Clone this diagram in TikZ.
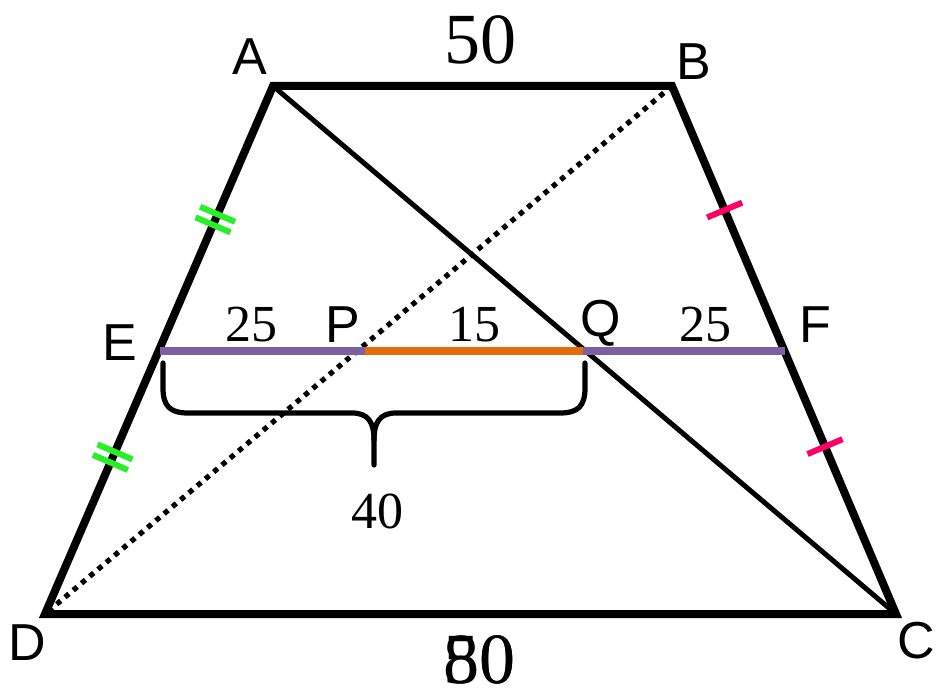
\documentclass[tikz,border=0pt]{standalone}
\usepackage{fontspec}
\newfontfamily\lsans{Liberation Sans}
\newfontfamily\lserif{Liberation Serif}
\usetikzlibrary{calc}
\definecolor{frpurple}{RGB}{124,96,162}
\definecolor{frorange}{RGB}{228,108,10}
\definecolor{frgreen}{RGB}{40,240,40}
\definecolor{frpink}{RGB}{255,0,102}
\tikzset{
  frame/.style={line width=4pt, line join=miter},
  diag/.style={line width=2.5pt},
  dotdiag/.style={line width=2.6pt, dash pattern=on 2.6pt off 2.8pt},
  seg/.style={line width=4pt},
  gtick/.style={frgreen, line width=3pt},
  ptick/.style={frpink, line width=3pt},
  brace/.style={line width=2.6pt, line cap=round, line join=round},
  vlab/.style={font=\lsans\fontsize{26}{30}\selectfont, inner sep=0pt},
  nlab/.style={font=\lserif\fontsize{26}{30}\selectfont, inner sep=0pt},
  blab/.style={font=\lserif\fontsize{36}{40}\selectfont, inner sep=0pt},
}
\begin{document}
\begin{tikzpicture}[x=0.5pt, y=-0.5pt]
\useasboundingbox (0,0) rectangle (937,695);
\coordinate (A) at (273,86);
\coordinate (B) at (672,86);
\coordinate (C) at (896,614);
\coordinate (D) at (45,614);
\coordinate (E) at (160,351);
\coordinate (P) at (365,351);
\coordinate (Q) at (583,351);
\coordinate (F) at (785,351);
% diagonals
\draw[dotdiag] (B) -- (D);
\draw[diag] (A) -- (C);
% frame
\draw[frame] (A) -- (B) -- (C) -- (D) -- cycle;
% midline
\draw[seg, frpurple] (E) -- (P);
\draw[seg, frorange] (P) -- (Q);
\draw[seg, frpurple] (Q) -- (F);
% ticks
\coordinate (g1) at ($(A)!0.243!(D)$);
\coordinate (g2) at ($(A)!0.263!(D)$);
\coordinate (g3) at ($(A)!0.693!(D)$);
\coordinate (g4) at ($(A)!0.713!(D)$);
\foreach \g in {g1,g2,g3,g4}
  \draw[gtick] ($(\g)!9.5pt!90:(D)$) -- ($(\g)!9.5pt!-90:(D)$);
\coordinate (p1) at ($(B)!0.235!(C)$);
\coordinate (p2) at ($(B)!0.683!(C)$);
\foreach \p in {p1,p2}
  \draw[ptick] ($(\p)!9.5pt!90:(C)$) -- ($(\p)!9.5pt!-90:(C)$);
% brace
\draw[brace] (163,363) -- (163,388) .. controls (163,406) and (170,413) .. (188,413) -- (352,413) .. controls (368,413) and (374,422) .. (374,440) -- (374,465);
\draw[brace] (374,440) .. controls (374,422) and (380,413) .. (396,413) -- (560,413) .. controls (578,413) and (585,406) .. (585,388) -- (585,363);
% labels
\node[vlab] (lA) at (250,57) {A};
\node[vlab] (lB) at (694,62) {B};
\node[vlab] (lC) at (916,641) {C};
\node[vlab] (lD) at (27,643) {D};
\node[vlab] (lE) at (120,343) {E};
\node[vlab] (lF) at (815,325) {F};
\node[vlab] (lP) at (343,325) {P};
\node[vlab] (lQ) at (601,323) {Q};
\node[nlab] (n25a) at (251,325) {25};
\node[nlab] (n15) at (474,325) {15};
\node[nlab] (n25b) at (705,325) {25};
\node[nlab] (n40) at (377,511) {40};
\node[blab] (n50) at (480,40) {50};
\node[blab] (n80) at (479,660) {80};
\node[blab] (n50b) at (479,660) {50};
\end{tikzpicture}
\end{document}
